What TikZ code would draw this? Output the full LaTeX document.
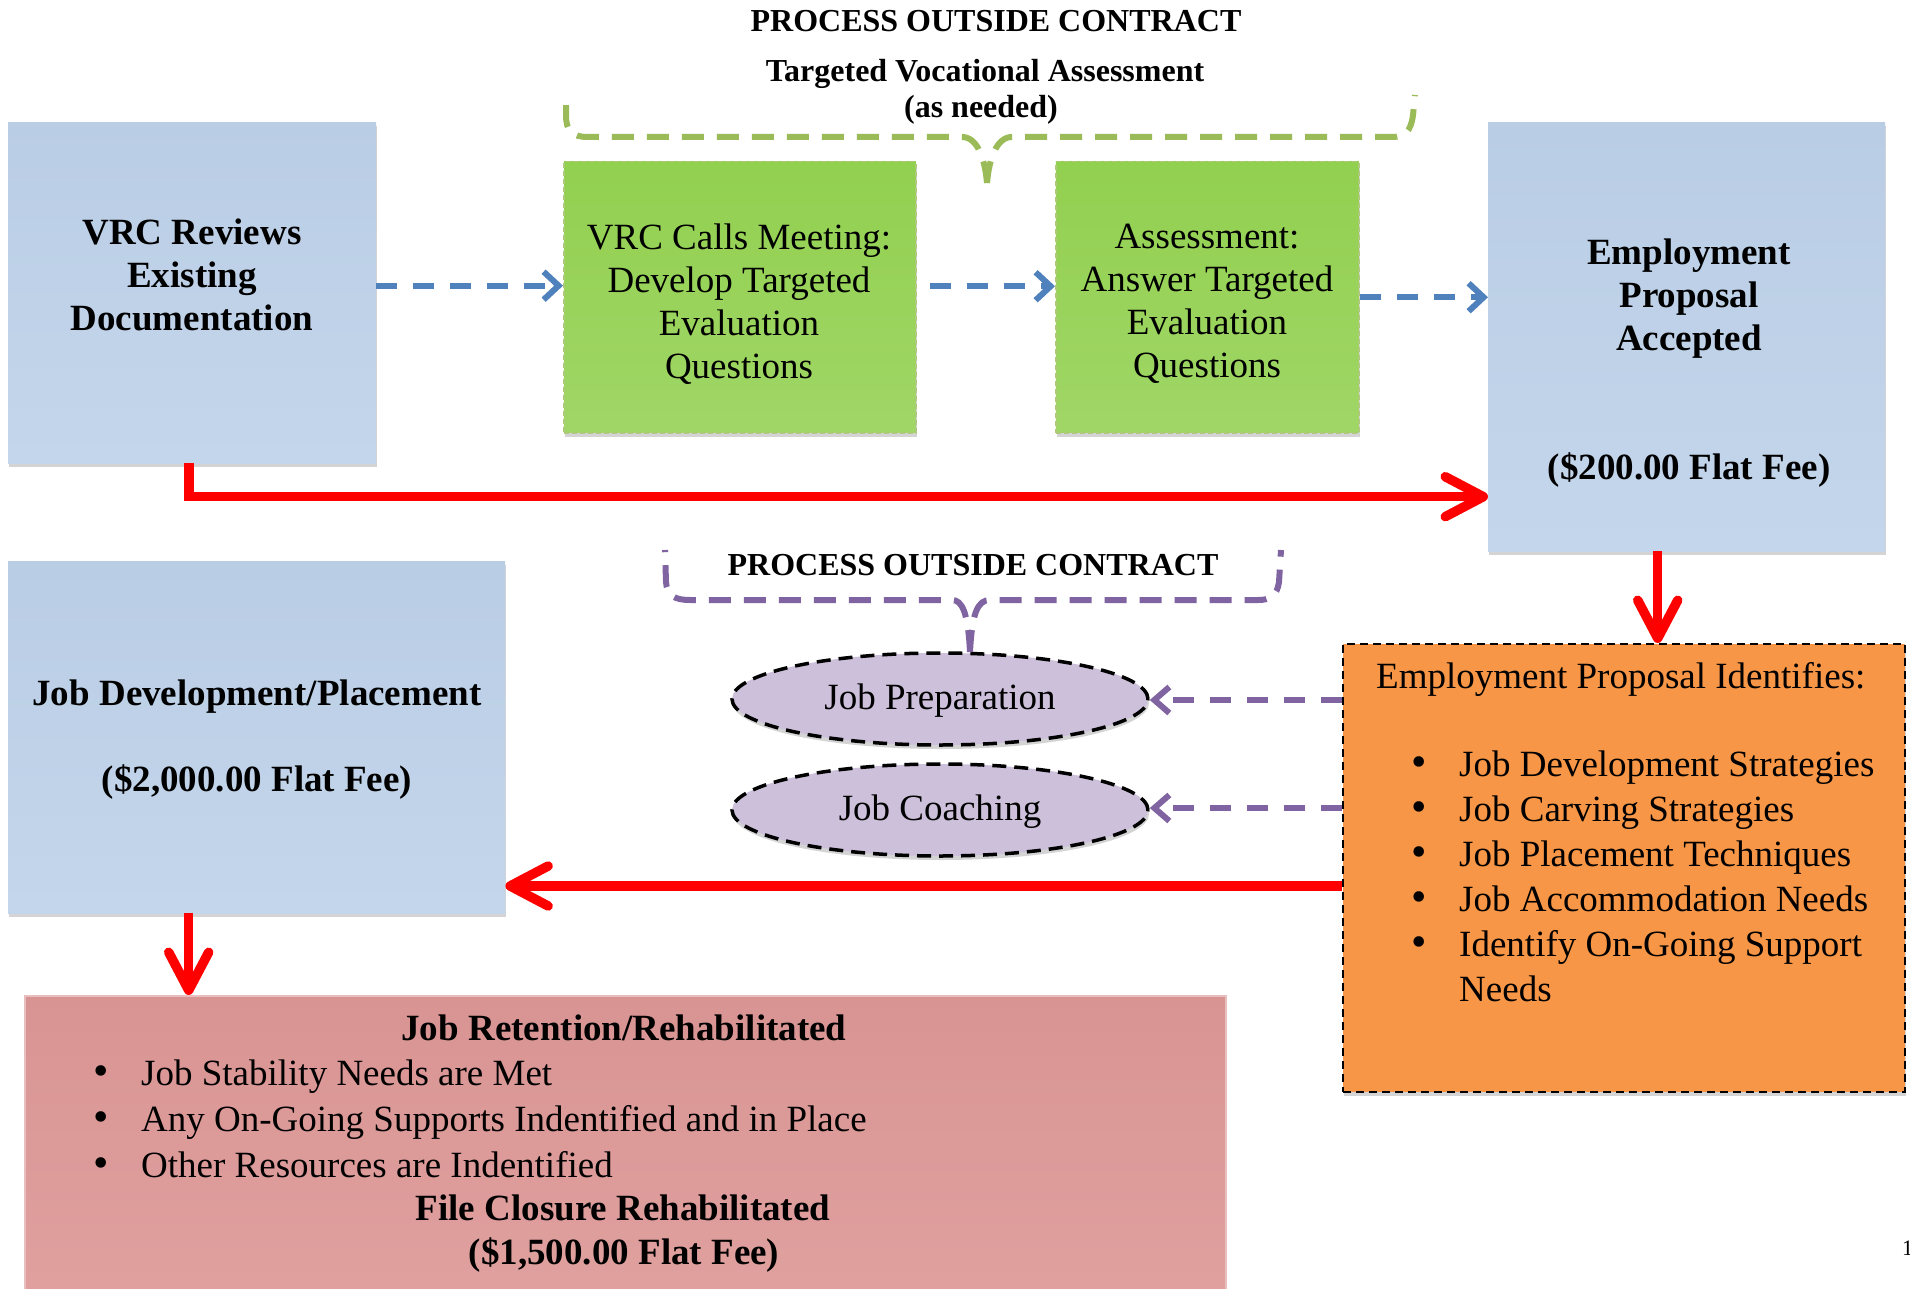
\documentclass[tikz,border=0pt]{standalone}
\usepackage{fontspec}
\setmainfont{Liberation Serif}
\usetikzlibrary{arrows.meta,shapes.geometric,shadows,calc}

\definecolor{blueA}{RGB}{185,205,229}
\definecolor{blueB}{RGB}{196,214,235}
\definecolor{greenA}{RGB}{146,208,80}
\definecolor{greenB}{RGB}{160,214,102}
\definecolor{greenLine}{RGB}{155,187,89}
\definecolor{orangeF}{RGB}{247,150,70}
\definecolor{pinkA}{RGB}{216,148,147}
\definecolor{pinkB}{RGB}{224,161,159}
\definecolor{purpleF}{RGB}{204,192,218}
\definecolor{purpleL}{RGB}{128,100,162}
\definecolor{blueL}{RGB}{79,129,189}
\definecolor{redL}{RGB}{255,0,0}

\newcommand{\bodyfont}{\fontsize{37}{43}\selectfont}
\newcommand{\listfont}{\fontsize{37}{45}\selectfont}
\newcommand{\titlefont}{\bfseries\fontsize{32}{36}\selectfont}

\begin{document}
\begin{tikzpicture}[x=1pt,y=-1pt,
  boxshadow/.style={general shadow={fill=black!17, shadow xshift=1pt, shadow yshift=-4pt}},
  bluebox/.style={rectangle, inner sep=0pt, anchor=north west, top color=blueA, bottom color=blueB, boxshadow},
  greenbox/.style={rectangle, inner sep=0pt, anchor=north west, top color=greenA, bottom color=greenB, draw=greenLine!80!white, line width=1.5pt, dash pattern=on 5pt off 3pt, boxshadow},
  orangebox/.style={rectangle, inner sep=0pt, anchor=north west, fill=orangeF, draw=black, line width=2pt, dash pattern=on 8pt off 5pt, boxshadow},
  pinkbox/.style={rectangle, inner sep=0pt, anchor=north west, top color=pinkA, bottom color=pinkB, draw=pinkA!60!white, line width=1.5pt},
  ell/.style={ellipse, inner sep=0pt, minimum width=416pt, minimum height=92pt, fill=purpleF, draw=black, line width=3.5pt, dash pattern=on 14pt off 8pt, font=\bodyfont, text height=26pt, text depth=6pt, boxshadow},
  bodytext/.style={font=\bodyfont, align=center, inner sep=0pt},
  boldtext/.style={font=\bfseries\bodyfont, align=center, inner sep=0pt},
  listtext/.style={font=\listfont, inner sep=0pt, anchor=base west},
  bul/.style={font=\fontsize{44}{45}\selectfont, inner sep=0pt, anchor=base},
  titletext/.style={font=\titlefont, inner sep=0pt, anchor=base},
  bluearrow/.style={draw=blueL, line width=6pt, dash pattern=on 21pt off 16pt, -{Straight Barb[length=15pt,width=28pt]}},
  purplearrow/.style={draw=purpleL, line width=6pt, dash pattern=on 21pt off 16pt, -{Straight Barb[length=15pt,width=26pt]}},
  redarrow/.style={draw=redL, line width=9.5pt, -{Straight Barb[length=38pt,width=40pt,round]}},
  bracestyle/.style={line width=6pt, dash pattern=on 22pt off 13pt}
]
\useasboundingbox (0,0) rectangle (1910,1289);
\fill[white] (0,0) rectangle (1910,1289);

% boxes
\node[bluebox, minimum width=368pt, minimum height=341pt] (vrc) at (8,122) {};
\node[greenbox, minimum width=352pt, minimum height=271pt] (g1) at (563,161) {};
\node[greenbox, minimum width=303pt, minimum height=271pt] (g2) at (1055,161) {};
\node[bluebox, minimum width=397pt, minimum height=429pt] (epa) at (1488,122) {};
\node[orangebox, minimum width=562pt, minimum height=448pt] (eid) at (1342,643) {};
\node[bluebox, minimum width=497pt, minimum height=352pt] (jd) at (8,561) {};
\node[pinkbox, minimum width=1201pt, minimum height=310pt] (jr) at (24,995) {};

% ellipses
\node[ell] (jp) at (940,699) {Job Preparation};
\node[ell] (jc) at (940,810) {Job Coaching};

% titles
\node[titletext] (t1) at (996,32) {PROCESS OUTSIDE CONTRACT};
\node[titletext] (t2) at (985,82) {Targeted Vocational Assessment};
\node[titletext] (t3) at (981,118) {(as needed)};
\node[titletext] (t4) at (973,575) {PROCESS OUTSIDE CONTRACT};

% braces (drawn from the tip outwards)
\draw[bracestyle, greenLine] (987,183) .. controls (985,160) and (978,137) .. (962,137) -- (588,137) .. controls (572,137) and (566,131) .. (566,115) -- (566,95);
\draw[bracestyle, greenLine] (987,183) .. controls (989,160) and (996,137) .. (1012,137) -- (1392,137) .. controls (1405,137) and (1411,131) .. (1413,115) -- (1415,95);
\draw[bracestyle, purpleL] (970,652) .. controls (968,612) and (962,600) .. (952,600) -- (690,600) .. controls (675,600) and (667,596) .. (666,582) -- (665,550);
\draw[bracestyle, purpleL] (970,652) .. controls (972,612) and (978,600) .. (990,600) -- (1258,600) .. controls (1270,600) and (1277,596) .. (1279,582) -- (1281,550);

% box texts
\node[boldtext] (vrcT) at (192,275) {VRC Reviews\\Existing\\Documentation};
\node[bodytext] (g1T) at (739,304) {VRC Calls Meeting:\\Develop Targeted\\Evaluation\\Questions};
\node[bodytext] (g2T) at (1207,304) {Assessment:\\Answer Targeted\\Evaluation\\Questions};
\node[boldtext] (epaT) at (1689,299) {Employment\\Proposal\\Accepted};
\node[boldtext, anchor=base] (epaF) at (1689,479) {(\$200.00 Flat Fee)};
\node[boldtext, anchor=base] (jdT) at (257,705) {Job Development/Placement};
\node[boldtext, anchor=base] (jdF) at (257,791) {(\$2,000.00 Flat Fee)};

% orange list
\node[listtext] (eidH) at (1376,688) {Employment Proposal Identifies:};
\node[bul] (b1) at (1419,776) {\textbullet};
\node[bul] (b2) at (1419,821) {\textbullet};
\node[bul] (b3) at (1419,866) {\textbullet};
\node[bul] (b4) at (1419,911) {\textbullet};
\node[bul] (b5) at (1419,956) {\textbullet};
\node[listtext] (i1) at (1459,776) {Job Development Strategies};
\node[listtext] (i2) at (1459,821) {Job Carving Strategies};
\node[listtext] (i3) at (1459,866) {Job Placement Techniques};
\node[listtext] (i4) at (1459,911) {Job Accommodation Needs};
\node[listtext] (i5) at (1459,956) {Identify On-Going Support};
\node[listtext] (i6) at (1459,1001) {Needs};

% pink list
\node[boldtext, anchor=base] (jrH) at (624,1040) {Job Retention/Rehabilitated};
\node[bul] (p1) at (101,1085) {\textbullet};
\node[bul] (p2) at (101,1131) {\textbullet};
\node[bul] (p3) at (101,1177) {\textbullet};
\node[listtext] (q1) at (141,1085) {Job Stability Needs are Met};
\node[listtext] (q2) at (141,1131) {Any On-Going Supports Indentified and in Place};
\node[listtext] (q3) at (141,1177) {Other Resources are Indentified};
\node[boldtext, anchor=base] (jrF) at (623,1220) {File Closure Rehabilitated};
\node[boldtext, anchor=base] (jrG) at (624,1264) {(\$1,500.00 Flat Fee)};

% page number
\node[font=\fontsize{22}{24}\selectfont, inner sep=0pt, anchor=base west] (pg) at (1902,1255) {1};

% connector start points
\coordinate (a1) at ([yshift=7pt]vrc.east);
\coordinate (a2) at ([xshift=13pt,yshift=11pt]g1.east);
\coordinate (u1) at ([yshift=-1pt]eid.west |- jp.east);
\coordinate (u2) at ([yshift=2pt]eid.west |- jc.east);
\coordinate (r1) at ([xshift=-3pt]vrc.south);
\coordinate (r1e) at ([yshift=-160pt]epa.west);
\coordinate (r2) at ([xshift=-29pt]epa.south);
\coordinate (r3) at ([yshift=-18pt]eid.west);
\coordinate (r4) at ([xshift=-68pt]jd.south);

% blue dashed arrows
\draw[bluearrow] (a1) -- (g1.west |- a1);
\draw[bluearrow] (a2) -- (g2.west |- a2);
\draw[bluearrow] (g2.east) -- (epa.west |- g2.east);

% purple dashed arrows
\draw[purplearrow] (u1) -- (jp.east |- u1);
\draw[purplearrow] (u2) -- (jc.east |- u2);

% red arrows
\draw[redarrow] (r1) |- (r1e);
\draw[redarrow] (r2) -- (r2 |- eid.north);
\draw[redarrow] (r3) -- (jd.east |- r3);
\draw[redarrow] (r4) -- (r4 |- jr.north);
\end{tikzpicture}
\end{document}
